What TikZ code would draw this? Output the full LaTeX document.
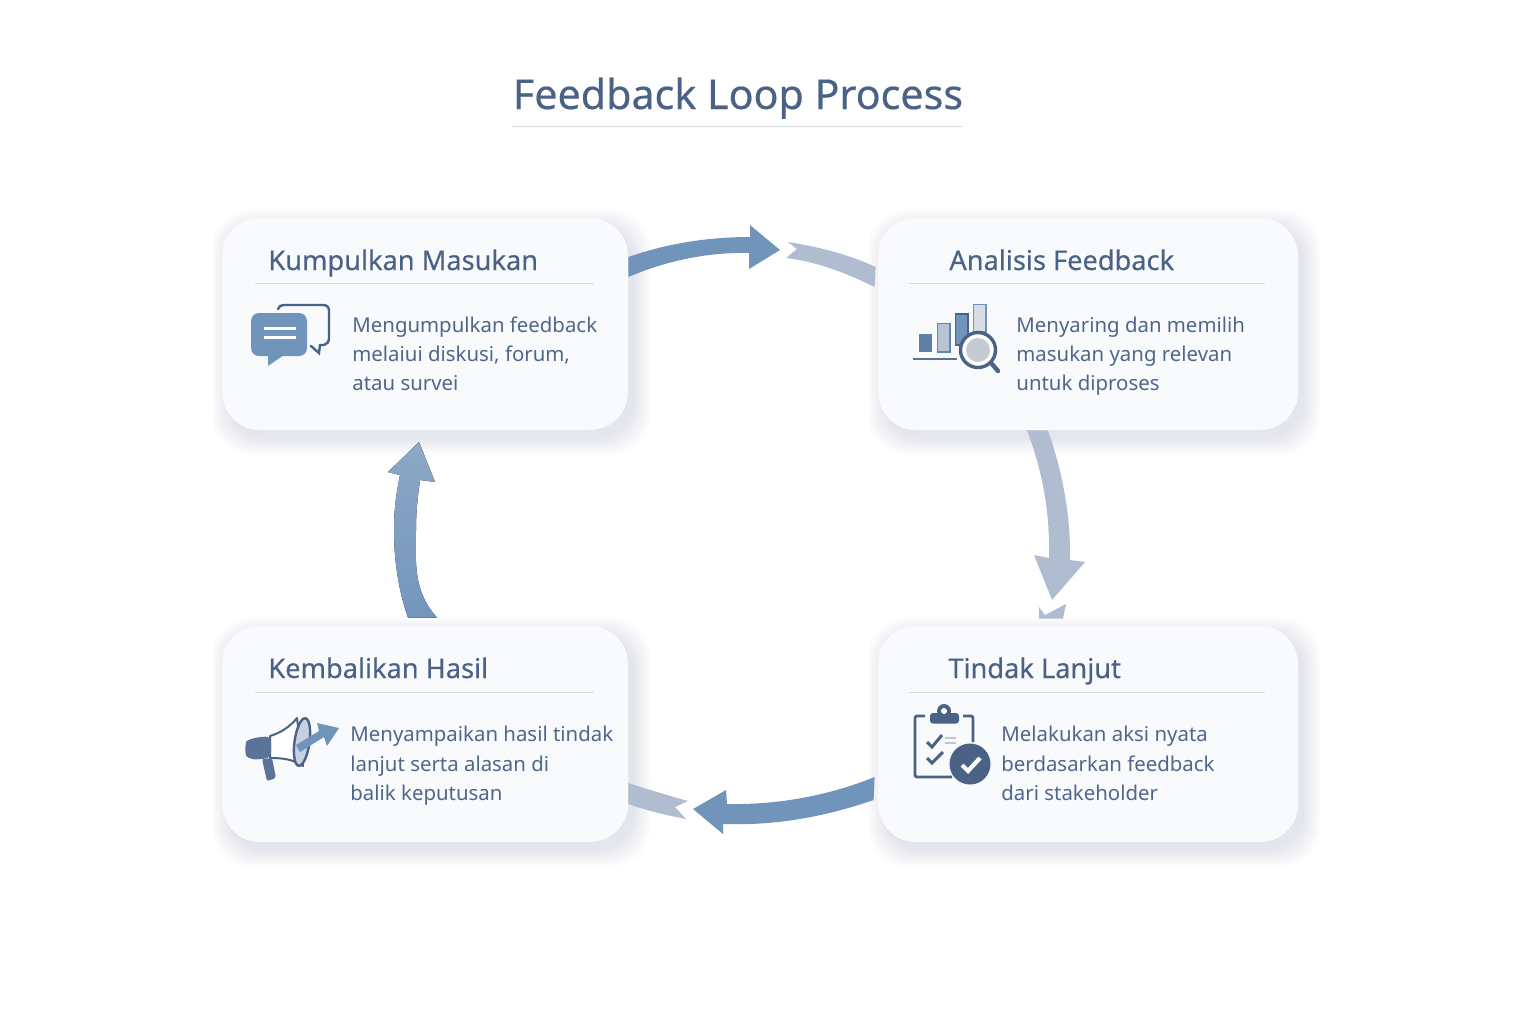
\documentclass[tikz,border=0pt]{standalone}
\usepackage{fontspec}
\usetikzlibrary{calc}
\setmainfont{Noto Sans}
\newfontfamily\headf[FakeBold=0.35]{Noto Sans}
\definecolor{ink}{HTML}{4A6285}
\definecolor{bodyink}{HTML}{50668A}
\definecolor{navy}{HTML}{4A6285}
\definecolor{cardfill}{HTML}{F8FAFC}
\definecolor{rulec}{HTML}{D6DCE3}
\definecolor{blueA}{HTML}{7194BB}
\definecolor{blueB}{HTML}{8CA8C6}
\definecolor{greyA}{HTML}{B0BCD0}
\definecolor{shadowc}{HTML}{8496AC}
\definecolor{lensc}{HTML}{C5CAD3}
\definecolor{slate}{HTML}{5A7398}
\definecolor{conec}{HTML}{C5D0E0}
\tikzset{
  x=0.5pt,y=-0.5pt,
  card/.style={rectangle,fill=cardfill,rounded corners=19pt,inner sep=0pt,minimum height=106pt},
  head/.style={anchor=base west,inner sep=0pt,text=ink,font=\headf\fontsize{13.6}{16}\selectfont},
  body/.style={anchor=base west,inner sep=0pt,text=bodyink,font=\fontsize{10.2}{12}\selectfont},
  rulel/.style={draw=rulec,line width=0.5pt},
  flow/.style={fill=blueA},
  flowg/.style={fill=greyA},
  iconl/.style={draw=navy,line width=1.2pt,line cap=round,line join=round},
}
\newcommand{\cardshadow}[4]{%
  \foreach \b in {16,14,...,0}{%
    \fill[shadowc,opacity=0.022,rounded corners=19pt]
      ({#1+6-\b},{#2+8-\b}) rectangle ({#3+6+\b},{#4+8+\b});
  }%
}
\begin{document}
\begin{tikzpicture}
\useasboundingbox (0,0) rectangle (1536,1024);
\fill[white] (0,0) rectangle (1536,1024);

% title
\node[anchor=base,inner sep=0pt,text=ink,font=\headf\fontsize{20.6}{24}\selectfont] (title) at (738,109) {Feedback Loop Process};
\coordinate (tl) at (512,126);
\coordinate (tr) at (962,126);
\draw[rulel] (tl) -- (tr);

% cards
\cardshadow{222}{218}{628}{430}
\cardshadow{878}{218}{1298}{430}
\cardshadow{222}{626}{628}{842}
\cardshadow{878}{626}{1298}{842}
\node[card,minimum width=203pt] (k1) at (425,324) {};
\node[card,minimum width=210pt] (k2) at (1088,324) {};
\node[card,minimum width=203pt,minimum height=108pt] (k3) at (425,734) {};
\node[card,minimum width=210pt,minimum height=108pt] (k4) at (1088,734) {};

% connectors
\fill[flow] ($(k1.east)+(0,-67)$) .. controls (668,243) and (710,237) .. (750,237) -- (750,225) -- (780,250) -- (749,269) -- (749,253) .. controls (710,252) and (668,260) .. ($(k1.east)+(0,-47)$) -- cycle;
\fill[flowg] (788,242) -- (797,249) -- (786,258) .. controls (820,262) and (850,275) .. ($(k2.west)+(-3,-37)$) -- ($(k2.west)+(-2,-57)$) .. controls (850,255) and (820,247) .. cycle;
\fill[flowg] ($(k2.south)+(-61,0)$) -- ($(k2.south)+(-40,0)$) .. controls (1060,465) and (1071,510) .. (1070,560) -- (1085,562) -- (1052,600) -- (1034,555) -- (1049,558) .. controls (1050,510) and (1042,470) .. cycle;
\fill[flowg] ($(k4.north)+(-49,-7)$) -- (1039,607) -- (1045,615) -- (1066,604) -- ($(k4.north)+(-25,-7)$) -- cycle;
\fill[flow] ($(k4.west)+(-3,43)$) .. controls (830,795) and (780,805) .. (727,804) -- (726,790) -- (693,809) -- (723,834) -- (723,824) .. controls (780,826) and (830,815) .. ($(k4.west)+(-4,66)$) -- cycle;
\fill[flowg] ($(k3.east)+(0,49)$) .. controls (650,790) and (670,796) .. (688,801) -- (675,807) -- (686,819) .. controls (665,815) and (645,810) .. ($(k3.east)+(0,70)$) -- cycle;
\fill[top color=blueB,bottom color=blueA!90!blueB] ($(k3.north)+(12,-8)$) .. controls (412,590) and (416,560) .. (416,530) .. controls (416,510) and (418,495) .. (420,480) -- (435,482) -- (419,442) -- (388,472) -- (400,475) .. controls (396,495) and (394,510) .. (394,530) .. controls (394,565) and (400,595) .. ($(k3.north)+(-17,-8)$) -- cycle;

% card 1
\node[head] (h1) at (268,270) {Kumpulkan Masukan};
\coordinate (r1a) at (255,283); \coordinate (r1b) at (594,283);
\draw[rulel] (r1a) -- (r1b);
\node[body] (b1a) at (352,332) {Mengumpulkan feedback};
\node[body] (b1b) at (352,361) {melaiui diskusi, forum,};
\node[body] (b1c) at (352,390) {atau survei};
% chat icon
\draw[iconl,line join=miter] (278,309) .. controls (279,306) and (281,305) .. (284,305) -- (323,305) .. controls (327,305) and (329,307) .. (329,311) -- (329,338) .. controls (329,342) and (327,344) .. (324,345) -- (320,345) -- (319,353) -- (311,346);
\fill[blueA,rounded corners=4pt] (251,313) rectangle (307,356);
\fill[blueA] (268,350) -- (268,366) -- (284,355) -- cycle;
\draw[white,line width=1.5pt] (264,328) -- (296,328) (264,337) -- (296,337);

% card 2
\node[head] (h2) at (949,270) {Analisis Feedback};
\coordinate (r2a) at (909,283); \coordinate (r2b) at (1265,283);
\draw[rulel] (r2a) -- (r2b);
\node[body] (b2a) at (1016,332) {Menyaring dan memilih};
\node[body] (b2b) at (1016,361) {masukan yang relevan};
\node[body] (b2c) at (1016,390) {untuk diproses};
% chart icon
\fill[navy!90!white] (913,357.5) rectangle (957,360);
\fill[blueA!60!navy] (919,334) rectangle (932,352);
\filldraw[fill=greyA!90!white,draw=blueA!70!navy,line width=0.6pt] (937.5,323.5) rectangle (950,352);
\filldraw[fill=blueA,draw=navy,line width=0.6pt] (955.5,314) rectangle (968,345);
\filldraw[fill=rulec,draw=blueA,line width=0.6pt] (973.5,304.5) rectangle (986,332);
\draw[navy,line width=2.2pt,line cap=round] (992,364) -- (998,371);
\filldraw[fill=white,draw=navy,line width=1.7pt] (978,350) circle (17.5);
\fill[lensc] (978,350) circle (12);

% card 3
\node[head] (h3) at (268,678) {Kembalikan Hasil};
\coordinate (r3a) at (255,692); \coordinate (r3b) at (594,692);
\draw[rulel] (r3a) -- (r3b);
\node[body] (b3a) at (350,741) {Menyampaikan hasil tindak};
\node[body] (b3b) at (350,771) {lanjut serta alasan di};
\node[body] (b3c) at (350,800) {balik keputusan};
% megaphone icon
\filldraw[fill=white,draw=navy,line width=1pt,line join=round] (270,736) .. controls (280,733) and (290,727) .. (297,718) -- (303,766) .. controls (293,759) and (282,758) .. (270,758) -- cycle;
\fill[slate,rounded corners=3pt] (271,736) -- (252,738) .. controls (245,742) and (245,755) .. (251,760) -- (271,758) -- cycle;
\fill[slate,rounded corners=1pt] (262,759) -- (272,758) -- (276,778) -- (267,781) -- cycle;
\filldraw[fill=conec,draw=navy,line width=1.2pt,rotate around={-8:(302,742)}] (302,742) ellipse (7.5 and 24);
\fill[blueA] (296,745) -- (319,731) -- (317,723) -- (339,728) -- (327,746) -- (324,737) -- (300,752) -- cycle;

% card 4
\node[head] (h4) at (948,678) {Tindak Lanjut};
\coordinate (r4a) at (909,692); \coordinate (r4b) at (1265,692);
\draw[rulel] (r4a) -- (r4b);
\node[body] (b4a) at (1001,741) {Melakukan aksi nyata};
\node[body] (b4b) at (1001,771) {berdasarkan feedback};
\node[body] (b4c) at (1001,800) {dari stakeholder};
% clipboard icon
\draw[navy,line width=1.4pt,line join=round,rounded corners=1pt] (925,716) -- (915,716) -- (915,777) -- (952,777);
\draw[navy,line width=1.4pt,line join=round,rounded corners=1pt] (963,716) -- (973,716) -- (973,742);
\fill[navy,rounded corners=1.5pt] (930,713) rectangle (959,723.5);
\fill[navy] (944,711) circle (7);
\fill[white] (944,711) circle (3);
\draw[navy,line width=1.5pt] (927,742) -- (932,747) -- (942,735);
\draw[navy,line width=1.5pt] (927,758) -- (932,763) -- (943,752);
\draw[rulec!90!black,line width=0.6pt] (945,738) -- (956,738) (945,743) -- (956,743);
\fill[navy] (970,764) circle (20.5);
\draw[white,line width=2.1pt] (962,765) -- (968,771) -- (980,758);
\end{tikzpicture}
\end{document}
